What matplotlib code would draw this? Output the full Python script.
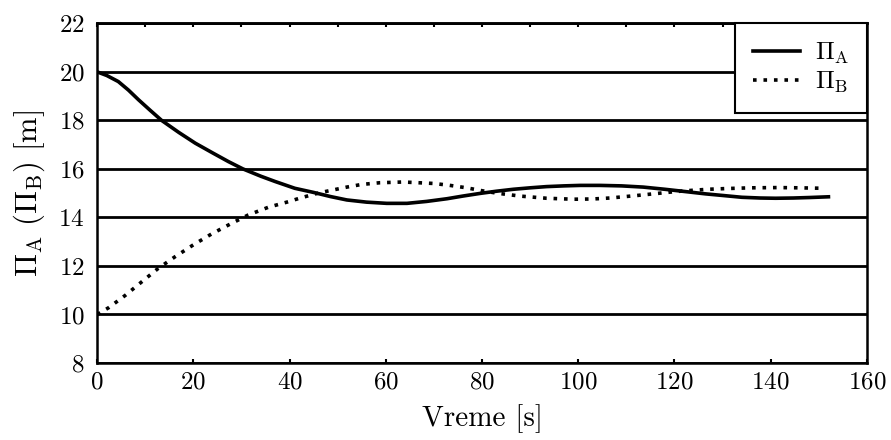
#!/usr/bin/env python3
"""Level response of two tanks, Pi_A and Pi_B over time."""

import matplotlib
matplotlib.use("Agg")
import matplotlib.pyplot as plt
from matplotlib.ticker import MultipleLocator

# values
t_a = [0, 2, 4.4, 6.5, 8.6, 11, 13.4, 17, 20.4, 24, 27.3, 30.3, 34, 37, 41.1,
       45, 48.5, 51.9, 56, 60.2, 64.4, 68.5, 72.7, 76, 79.6, 83, 86.5, 90,
       93.4, 97, 100.4, 104.5, 109, 113.5, 118, 122.5, 126.5, 130.8, 134,
       137.8, 141, 144.7, 148, 152]
pi_a = [20.0, 19.85, 19.6, 19.25, 18.85, 18.42, 18.0, 17.5, 17.06, 16.66,
        16.3, 16.0, 15.7, 15.48, 15.2, 15.03, 14.86, 14.72, 14.63, 14.58,
        14.58, 14.66, 14.77, 14.88, 14.99, 15.08, 15.16, 15.22, 15.27, 15.3,
        15.32, 15.32, 15.3, 15.25, 15.16, 15.06, 14.97, 14.89, 14.83, 14.8,
        14.79, 14.8, 14.82, 14.85]

t_b = [0, 2.4, 5.8, 9.3, 12.7, 16.2, 20, 23.8, 27.7, 31.4, 35.6, 39.8, 42.2,
       46.3, 51.9, 55, 58.8, 63.6, 69.9, 73, 76.8, 80, 83.1, 87.9, 93.4, 99,
       103, 106.6, 112, 117, 120.5, 123.9, 127, 130.8, 136, 141.4, 146, 151]
pi_b = [10.0, 10.28, 10.78, 11.35, 11.9, 12.38, 12.87, 13.32, 13.73, 14.1,
        14.42, 14.65, 14.8, 15.02, 15.25, 15.36, 15.43, 15.46, 15.4, 15.33,
        15.22, 15.1, 15.0, 14.88, 14.79, 14.75, 14.76, 14.8, 14.9, 15.0,
        15.07, 15.12, 15.16, 15.19, 15.22, 15.23, 15.22, 15.2]

plt.rcParams["font.family"] = "cmr10"
plt.rcParams["mathtext.fontset"] = "cm"
plt.rcParams["axes.formatter.use_mathtext"] = True


def main():
    fig = plt.figure(figsize=(8.91, 4.40), dpi=100)
    ax = fig.add_axes([0.109, 0.175, 0.864, 0.772])

    ax.plot(t_a, pi_a, color="black", linewidth=2.6, label=r"$\Pi_{\rm A}$",
            zorder=3)
    ax.plot(t_b, pi_b, color="black", linewidth=2.6, linestyle=(0, (1, 1.9)),
            label=r"$\Pi_{\rm B}$", zorder=3)

    ax.set_xlim(0, 160)
    ax.set_ylim(8, 22)
    ax.xaxis.set_major_locator(MultipleLocator(20))
    ax.yaxis.set_major_locator(MultipleLocator(2))
    ax.grid(axis="y", color="black", linewidth=2.0)
    ax.tick_params(axis="both", direction="in", labelsize=18, width=1.5,
                   length=3)
    ax.tick_params(axis="x", pad=6)
    ax.tick_params(axis="y", length=0, pad=9)
    # short inward ticks every 10 along the top edge
    top = ax.secondary_xaxis("top")
    top.set_xticks(range(0, 161, 10))
    top.tick_params(direction="in", length=3, width=1.5, labeltop=False)
    top.spines["top"].set_linewidth(1.8)

    for s in ax.spines.values():
        s.set_linewidth(1.8)

    ax.set_xlabel("Vreme [s]", fontsize=21, labelpad=8)
    ax.set_ylabel(r"$\Pi_{\rm A}\ (\Pi_{\rm B})$ [m]", fontsize=22, labelpad=8)

    leg = ax.legend(loc="upper right", fontsize=18, fancybox=False,
                    framealpha=1, edgecolor="black", borderaxespad=0,
                    handlelength=1.9, handletextpad=0.6, borderpad=0.7,
                    labelspacing=0.15)
    leg.get_frame().set_linewidth(1.5)

    fig.savefig("out.png", dpi=100)


if __name__ == "__main__":
    main()
